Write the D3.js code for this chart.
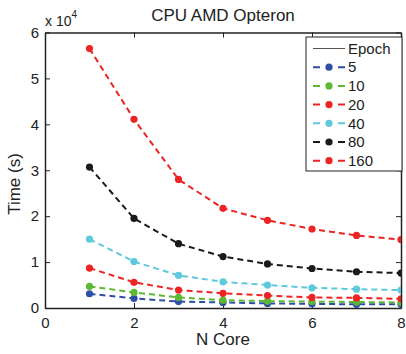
<!DOCTYPE html>
<html>
<head>
<meta charset="utf-8">
<script src="https://cdn.jsdelivr.net/npm/d3@7"></script>
<style>
  body { margin: 0; background: #fff; }
  svg text { font-family: "Liberation Sans", Arial, sans-serif; fill: #222; }
</style>
</head>
<body>
<svg id="chart" width="406" height="354"></svg>
<script>
// data (time in units of 1e4 seconds)
var cores = [1, 2, 3, 4, 5, 6, 7, 8];
var epochs = ["5", "10", "20", "40", "80", "160"];
var colors = ["#2f4fa6", "#5cb832", "#ee2424", "#5ec8dc", "#1a1a1a", "#ee2424"];
var t5   = [0.31, 0.21, 0.14, 0.12, 0.10, 0.09, 0.08, 0.08];
var t10  = [0.47, 0.34, 0.23, 0.17, 0.15, 0.14, 0.13, 0.12];
var t20  = [0.87, 0.56, 0.39, 0.32, 0.27, 0.23, 0.22, 0.20];
var t40  = [1.50, 1.01, 0.71, 0.57, 0.50, 0.44, 0.41, 0.39];
var t80  = [3.07, 1.95, 1.40, 1.12, 0.96, 0.86, 0.79, 0.76];
var t160 = [5.65, 4.11, 2.80, 2.17, 1.91, 1.72, 1.58, 1.49];
var series = [t5, t10, t20, t40, t80, t160];
var xTicks = [0, 2, 4, 6, 8];
var yTicks = [0, 1, 2, 3, 4, 5, 6];

var svg = d3.select("svg#chart");
var margin = {top: 32.5, right: 5, bottom: 46, left: 45};
var width = +svg.attr("width") - margin.left - margin.right;
var height = +svg.attr("height") - margin.top - margin.bottom;
var g = svg.append("g").attr("transform", "translate(" + margin.left + "," + margin.top + ")");

var x = d3.scaleLinear().domain([0, 8]).range([0, width]);
var y = d3.scaleLinear().domain([0, 6]).range([height, 0]);

svg.append("defs").append("clipPath").attr("id", "clip")
    .append("rect").attr("width", width).attr("height", height);

// box axes, ticks inward
function styleAxis(sel) {
    sel.select(".domain").attr("stroke", "#222").attr("stroke-width", 1.5);
    sel.selectAll(".tick line").attr("stroke", "#222");
    sel.selectAll(".tick text").style("font-size", "15px");
}
g.append("g").attr("transform", "translate(0," + height + ")")
    .call(d3.axisBottom(x).tickValues(xTicks).tickSize(-5).tickPadding(9).tickSizeOuter(0).tickFormat(d3.format("d")))
    .call(styleAxis);
g.append("g")
    .call(d3.axisLeft(y).tickValues(yTicks).tickSize(-5).tickPadding(6).tickSizeOuter(0).tickFormat(d3.format("d")))
    .call(styleAxis);
g.append("g")
    .call(d3.axisTop(x).tickValues(xTicks).tickSize(-5).tickFormat("").tickSizeOuter(0))
    .call(styleAxis);
g.append("g").attr("transform", "translate(" + width + ",0)")
    .call(d3.axisRight(y).tickValues(yTicks).tickSize(-5).tickFormat("").tickSizeOuter(0))
    .call(styleAxis);

var line = d3.line()
    .x(function(d, i) { return x(cores[i]); })
    .y(function(d) { return y(d); });

var plot = g.append("g").attr("clip-path", "url(#clip)");
series.forEach(function(s, k) {
    var sg = plot.append("g");
    sg.append("path")
        .datum(s)
        .attr("d", line)
        .attr("fill", "none")
        .attr("stroke", colors[k])
        .attr("stroke-width", 2)
        .attr("stroke-dasharray", "6,4");
    sg.selectAll("circle")
        .data(s)
        .enter().append("circle")
        .attr("cx", function(d, i) { return x(cores[i]); })
        .attr("cy", function(d) { return y(d); })
        .attr("r", 3.6)
        .attr("fill", colors[k]);
});

// titles
svg.append("text")
    .attr("x", margin.left + width / 2)
    .attr("y", 21)
    .style("text-anchor", "middle")
    .style("font-size", "17px")
    .text("CPU AMD Opteron");

svg.append("text")
    .attr("x", margin.left + width / 2)
    .attr("y", 345)
    .style("text-anchor", "middle")
    .style("font-size", "17px")
    .text("N Core");

svg.append("text")
    .attr("transform", "translate(20,184) rotate(-90)")
    .style("text-anchor", "middle")
    .style("font-size", "17px")
    .text("Time (s)");

var ex = svg.append("text")
    .attr("x", 45)
    .attr("y", 26)
    .style("font-size", "14px");
ex.append("tspan").text("x 10");
ex.append("tspan").attr("dy", -8).style("font-size", "10px").text("4");

// legend
var lg = svg.append("g").attr("transform", "translate(306,37)");
lg.append("rect")
    .attr("width", 96)
    .attr("height", 134)
    .attr("fill", "#fff")
    .attr("stroke", "#222")
    .attr("stroke-width", 1);

var rowH = 18.7;
var epochRow = lg.append("g").attr("transform", "translate(0,11.5)");
epochRow.append("line")
    .attr("x1", 7).attr("x2", 39)
    .attr("stroke", "#555").attr("stroke-width", 1);
epochRow.append("text")
    .attr("x", 42).attr("dy", "0.35em")
    .style("font-size", "15px")
    .text("Epoch");

epochs.forEach(function(e, k) {
    var row = lg.append("g").attr("transform", "translate(0," + (11.5 + rowH * (k + 1)) + ")");
    row.append("line")
        .attr("x1", 7).attr("x2", 39)
        .attr("stroke", colors[k]).attr("stroke-width", 2)
        .attr("stroke-dasharray", "7,18");
    row.append("circle")
        .attr("cx", 23).attr("r", 3.6)
        .attr("fill", colors[k]);
    row.append("text")
        .attr("x", 42).attr("dy", "0.35em")
        .style("font-size", "15px")
        .text(e);
});
</script>
</body>
</html>
